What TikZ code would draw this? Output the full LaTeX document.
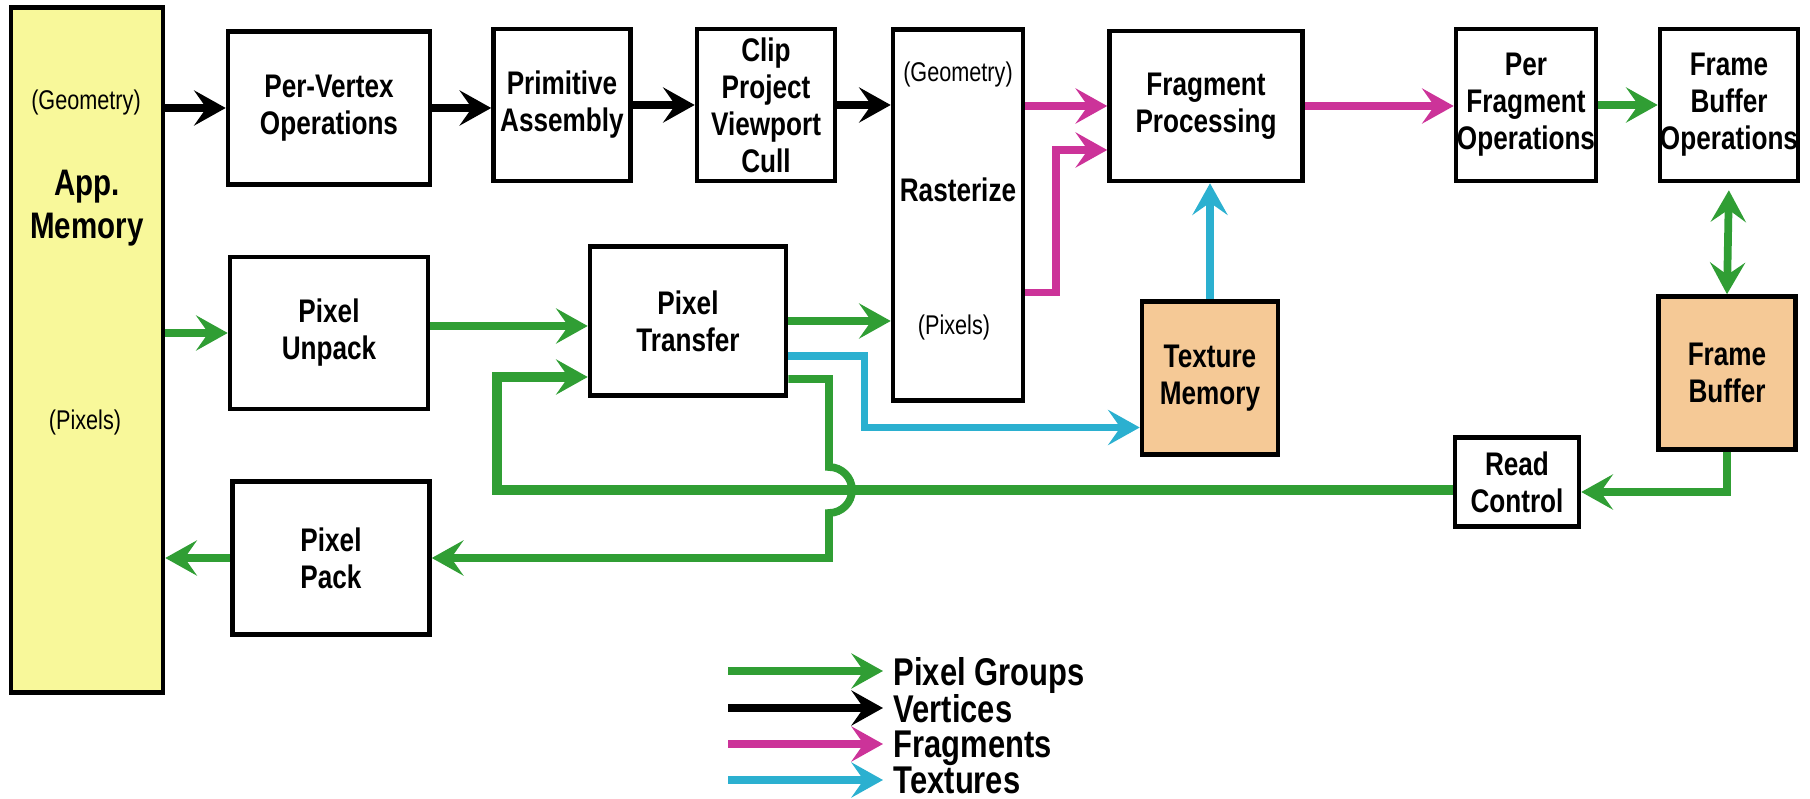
\documentclass[tikz,border=0pt]{standalone}
\usepackage{fontspec}
\setmainfont{Liberation Sans}[FakeStretch=0.8]
\usepackage{tikz}
\usetikzlibrary{positioning, arrows.meta, calc}
\definecolor{pixgreen}{RGB}{48,158,52}
\definecolor{fragpink}{RGB}{204,51,153}
\definecolor{texcyan}{RGB}{43,176,208}
\definecolor{memyellow}{RGB}{248,248,154}
\definecolor{memorange}{RGB}{245,201,150}
\tikzset{
>={Stealth[length=9pt, width=10pt, inset=3.5pt]}, % big notched arrow heads
box/.style={draw, line width=1.3pt, fill=white, inner sep=0pt, align=center, font=\fontsize{9.3}{10.5}\selectfont\bfseries}, % one stage of the pipeline
mem/.style={box, fill=memorange}, % texture memory and frame buffer
note/.style={inner sep=0pt, align=center, font=\fontsize{7.7}{8.5}\selectfont}, % small texts inside the tall boxes
vtx/.style={->, line width=2.3pt}, % vertices
pix/.style={->, line width=2.2pt, pixgreen}, % pixel groups
frg/.style={->, line width=2.2pt, fragpink}, % fragments
tex/.style={->, line width=2pt, texcyan}, % textures
legend/.style={inner sep=0pt, anchor=west, text depth=0pt, font=\fontsize{11}{12}\selectfont\bfseries}, % legend entries
}

\begin{document}
\begin{tikzpicture}[x=0.1mm, y=-0.1mm]
\useasboundingbox (0,0) rectangle (1810,799);

% application memory
\node[box, fill=memyellow, minimum width=15.2mm, minimum height=68.5mm] (app) at (87,350) {};
\node[note] (appgeom) at (86,103) {(Geometry)};
\node[note, font=\fontsize{10.5}{12.2}\selectfont\bfseries] (applbl) at (87,208) {App.\\Memory};
\node[note] (apppix) at (85,422) {(Pixels)};

% geometry path
\node[box, minimum width=20.2mm, minimum height=15.3mm] (vertex) at (329,108) {Per-Vertex\\Operations};
\node[box, minimum width=13.7mm, minimum height=15.2mm] (prim) at (562,105) {Primitive\\Assembly};
\node[box, minimum width=13.8mm, minimum height=15.2mm] (clip) at (766,105) {Clip\\Project\\Viewport\\Cull};
\node[box, minimum width=13mm, minimum height=37.1mm] (raster) at (958,215) {};
\node[note] (rastgeom) at (958,75) {(Geometry)};
\node[note, font=\fontsize{9.3}{10.5}\selectfont\bfseries] (rastlbl) at (958,190) {Rasterize};
\node[note] (rastpix) at (954,327) {(Pixels)};
\node[box, minimum width=19.3mm, minimum height=15mm] (frag) at (1206,106) {Fragment\\Processing};
\node[box, minimum width=14mm, minimum height=15.2mm] (perfrag) at (1526,105) {Per\\Fragment\\Operations};
\node[box, minimum width=13.7mm, minimum height=15.2mm] (fbops) at (1729,105) {Frame\\Buffer\\Operations};

% pixel path
\node[box, minimum width=19.8mm, minimum height=15.2mm] (unpack) at (329,333) {Pixel\\Unpack};
\node[box, minimum width=19.6mm, minimum height=14.9mm] (transfer) at (688,321) {Pixel\\Transfer};
\node[mem, minimum width=13.6mm, minimum height=15.3mm] (texmem) at (1210,378) {Texture\\Memory};
\node[mem, minimum width=13.7mm, minimum height=15.3mm] (fbuf) at (1727,373) {Frame\\Buffer};
\node[box, minimum width=12.4mm, minimum height=8.9mm] (readctl) at (1517,482) {Read\\Control};
\node[box, minimum width=19.7mm, minimum height=15.3mm] (pack) at (331,558) {Pixel\\Pack};
\coordinate (loop) at (497,490);
\coordinate (hop) at (829,490);

% vertices and fragments
\draw[vtx] (app.east |- vertex) -- (vertex.west);
\draw[vtx] (vertex.east) -- (vertex.east -| prim.west);
\draw[vtx] (prim.east) -- (prim.east -| clip.west);
\draw[vtx] (clip.east) -- (clip.east -| raster.west);
\draw[frg] (raster.east |- frag) -- (frag.west);
\draw[frg] ([yshift=-7.75mm]raster.east) -- ++(31,0) |- ([yshift=-4.4mm]frag.west);
\draw[frg] (frag.east) -- (frag.east -| perfrag.west);
\draw[pix] (perfrag.east) -- (perfrag.east -| fbops.west);
\draw[pix, <->, shorten <=0.7mm] (fbops.south) -- (fbuf.north);
\draw[tex] (texmem.north) -- (texmem.north |- frag.south);

% pixel groups
\draw[pix] (app.east |- unpack) -- (unpack.west);
\draw[pix] ($(unpack.east)+(0,-7)$) -- ($(unpack.east -| transfer.west)+(0,-7)$);
\draw[pix] (transfer.east) -- (transfer.east -| raster.west);
\draw[tex] ([yshift=-3.5mm]transfer.east) -- ++(76,0) |- ([yshift=-4.95mm]texmem.west);
\draw[pix] ([yshift=-5.8mm]transfer.east) -| ([yshift=2.3mm]hop) arc[start angle=90, end angle=-90, radius=2.3mm] |- (pack.east);
\draw[pix] (pack.west) -- (pack.west -| app.east);
\draw[pix] (fbuf.south) |- ([yshift=-1mm]readctl.east);
\draw[pix, line width=2.6pt] (readctl.west |- loop) -- (loop) |- ([yshift=-5.6mm]transfer.west);

% legend
\node[legend] (lgpix) at (893,671) {Pixel Groups};
\node[legend] (lgvtx) at (893,708) {Vertices};
\node[legend] (lgfrg) at (893,744) {Fragments};
\node[legend] (lgtex) at (893,780) {Textures};
\draw[pix] ([xshift=-16.5mm]lgpix.west) -- ([xshift=-1mm]lgpix.west);
\draw[vtx] ([xshift=-16.5mm]lgvtx.west) -- ([xshift=-1mm]lgvtx.west);
\draw[frg] ([xshift=-16.5mm]lgfrg.west) -- ([xshift=-1mm]lgfrg.west);
\draw[tex] ([xshift=-16.5mm]lgtex.west) -- ([xshift=-1mm]lgtex.west);
\end{tikzpicture}
\end{document}
